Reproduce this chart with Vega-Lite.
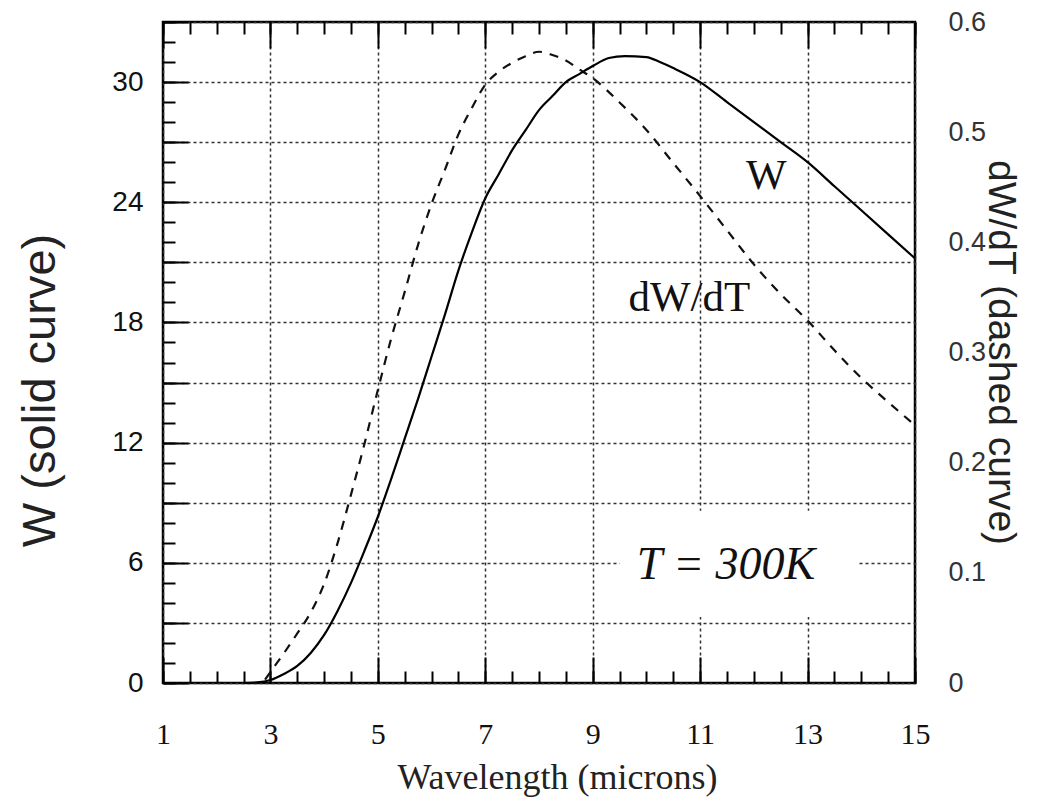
{
  "$schema": "https://vega.github.io/schema/vega-lite/v6.json",
  "width": 752,
  "height": 661,
  "autosize": {"type": "none"},
  "padding": {"left": 163, "top": 22, "right": 135, "bottom": 118},
  "background": "white",
  "config": {"view": {"stroke": "black", "strokeWidth": 2.5}},
  "datasets": {
    "W": [
      {"x": 2.5, "W": 0}, {"x": 2.75, "W": 0.03}, {"x": 3, "W": 0.15}, {"x": 3.25, "W": 0.45},
      {"x": 3.5, "W": 0.85}, {"x": 3.75, "W": 1.5}, {"x": 4, "W": 2.4}, {"x": 4.25, "W": 3.6},
      {"x": 4.5, "W": 5.0}, {"x": 4.75, "W": 6.6}, {"x": 5, "W": 8.3}, {"x": 5.25, "W": 10.2},
      {"x": 5.5, "W": 12.2}, {"x": 5.75, "W": 14.2}, {"x": 6, "W": 16.3}, {"x": 6.25, "W": 18.4},
      {"x": 6.5, "W": 20.6}, {"x": 6.75, "W": 22.5}, {"x": 7, "W": 24.2}, {"x": 7.25, "W": 25.4},
      {"x": 7.5, "W": 26.6}, {"x": 7.75, "W": 27.6}, {"x": 8, "W": 28.6}, {"x": 8.25, "W": 29.3},
      {"x": 8.5, "W": 30.0}, {"x": 8.75, "W": 30.4}, {"x": 9, "W": 30.8}, {"x": 9.3, "W": 31.2},
      {"x": 9.6, "W": 31.3}, {"x": 10, "W": 31.25}, {"x": 10.25, "W": 31.0}, {"x": 10.5, "W": 30.7},
      {"x": 11, "W": 30.0}, {"x": 11.5, "W": 29.0}, {"x": 12, "W": 28.0}, {"x": 12.5, "W": 27.0},
      {"x": 13, "W": 26.0}, {"x": 13.5, "W": 24.8}, {"x": 14, "W": 23.6}, {"x": 14.5, "W": 22.4},
      {"x": 15, "W": 21.2}
    ],
    "dWdT": [
      {"x": 2.9, "v": 0.003}, {"x": 3.0, "v": 0.01}, {"x": 3.25, "v": 0.027}, {"x": 3.5, "v": 0.045},
      {"x": 3.75, "v": 0.064}, {"x": 4.0, "v": 0.09}, {"x": 4.25, "v": 0.127}, {"x": 4.5, "v": 0.171},
      {"x": 4.75, "v": 0.217}, {"x": 5.0, "v": 0.266}, {"x": 5.25, "v": 0.313}, {"x": 5.5, "v": 0.355},
      {"x": 5.75, "v": 0.398}, {"x": 6.0, "v": 0.435}, {"x": 6.25, "v": 0.466}, {"x": 6.5, "v": 0.498},
      {"x": 6.75, "v": 0.522}, {"x": 7.0, "v": 0.543}, {"x": 7.25, "v": 0.555}, {"x": 7.5, "v": 0.563},
      {"x": 7.75, "v": 0.569}, {"x": 8.0, "v": 0.573}, {"x": 8.25, "v": 0.57}, {"x": 8.5, "v": 0.565},
      {"x": 8.75, "v": 0.557}, {"x": 9.0, "v": 0.549}, {"x": 9.5, "v": 0.527}, {"x": 10.0, "v": 0.502},
      {"x": 10.5, "v": 0.472}, {"x": 11.0, "v": 0.442}, {"x": 11.5, "v": 0.411}, {"x": 12.0, "v": 0.38},
      {"x": 12.5, "v": 0.353}, {"x": 13.0, "v": 0.329}, {"x": 13.5, "v": 0.302}, {"x": 14.0, "v": 0.277},
      {"x": 14.5, "v": 0.255}, {"x": 15.0, "v": 0.234}
    ]
  },
  "resolve": {"scale": {"y": "independent"}, "axis": {"x": "independent", "y": "independent"}},
  "layer": [
    {
      "data": {"name": "W"},
      "mark": {"type": "line", "opacity": 0},
      "encoding": {
        "x": {"field": "x", "type": "quantitative", "scale": {"domain": [1, 15], "nice": false, "zero": false},
          "axis": {"orient": "bottom", "values": [1, 3, 5, 7, 9, 11, 13, 15], "ticks": true, "tickSize": -26, "tickWidth": 2, "tickColor": "black", "labels": false, "domain": false, "grid": false, "title": null}},
        "y": {"field": "W", "type": "quantitative", "scale": {"domain": [0, 33], "nice": false},
          "axis": {"orient": "left", "values": [0, 3, 6, 9, 12, 15, 18, 21, 24, 27, 30, 33], "ticks": true, "tickSize": -25, "tickWidth": 2, "tickColor": "black", "labels": false, "domain": false, "grid": false, "title": null}}
      }
    },
    {
      "data": {"name": "W"},
      "mark": {"type": "line", "opacity": 0},
      "encoding": {
        "x": {"field": "x", "type": "quantitative", "scale": {"domain": [1, 15], "nice": false, "zero": false},
          "axis": {"orient": "bottom", "values": [1, 1.5, 2, 2.5, 3, 3.5, 4, 4.5, 5, 5.5, 6, 6.5, 7, 7.5, 8, 8.5, 9, 9.5, 10, 10.5, 11, 11.5, 12, 12.5, 13, 13.5, 14, 14.5, 15], "ticks": true, "tickSize": -12, "tickWidth": 2, "tickColor": "black", "labels": false, "domain": false, "grid": false, "title": null}},
        "y": {"field": "W", "type": "quantitative", "scale": {"domain": [0, 33], "nice": false},
          "axis": {"orient": "left", "values": [0, 1, 2, 3, 4, 5, 6, 7, 8, 9, 10, 11, 12, 13, 14, 15, 16, 17, 18, 19, 20, 21, 22, 23, 24, 25, 26, 27, 28, 29, 30, 31, 32, 33], "ticks": true, "tickSize": -12, "tickWidth": 2, "tickColor": "black", "labels": false, "domain": false, "grid": false, "title": null}}
      }
    },
    {
      "data": {"name": "W"},
      "mark": {"type": "line", "opacity": 0},
      "encoding": {
        "x": {"field": "x", "type": "quantitative", "scale": {"domain": [1, 15], "nice": false, "zero": false},
          "axis": {"orient": "top", "values": [1, 3, 5, 7, 9, 11, 13, 15], "ticks": true, "tickSize": -26, "tickWidth": 2, "tickColor": "black", "labels": false, "domain": false, "grid": false, "title": null}},
        "y": {"field": "W", "type": "quantitative", "scale": {"domain": [0, 33], "nice": false}, "axis": null}
      }
    },
    {
      "data": {"name": "W"},
      "mark": {"type": "line", "opacity": 0},
      "encoding": {
        "x": {"field": "x", "type": "quantitative", "scale": {"domain": [1, 15], "nice": false, "zero": false},
          "axis": {"orient": "top", "values": [1, 1.5, 2, 2.5, 3, 3.5, 4, 4.5, 5, 5.5, 6, 6.5, 7, 7.5, 8, 8.5, 9, 9.5, 10, 10.5, 11, 11.5, 12, 12.5, 13, 13.5, 14, 14.5, 15], "ticks": true, "tickSize": -12, "tickWidth": 2, "tickColor": "black", "labels": false, "domain": false, "grid": false, "title": null}},
        "y": {"field": "W", "type": "quantitative", "scale": {"domain": [0, 33], "nice": false}, "axis": null}
      }
    },
    {
      "data": {"values": [{"x1": 9.5, "x2": 13.92, "y1": 3.3, "y2": 8.6}]},
      "mark": {"type": "rect", "color": "white"},
      "encoding": {
        "x": {"field": "x1", "type": "quantitative", "scale": {"domain": [1, 15], "nice": false, "zero": false}, "axis": null},
        "x2": {"field": "x2"},
        "y": {"field": "y1", "type": "quantitative", "scale": {"domain": [0, 33], "nice": false}, "axis": null},
        "y2": {"field": "y2"}
      }
    },
    {
      "data": {"values": [{"x": 12.23, "y": 25.3, "text": "W"}, {"x": 10.8, "y": 19.2, "text": "dW/dT"}]},
      "mark": {"type": "text", "font": "Liberation Serif", "fontSize": 43, "color": "#111", "baseline": "middle", "align": "center"},
      "encoding": {
        "x": {"field": "x", "type": "quantitative", "scale": {"domain": [1, 15], "nice": false, "zero": false}, "axis": null},
        "y": {"field": "y", "type": "quantitative", "scale": {"domain": [0, 33], "nice": false}, "axis": null},
        "text": {"field": "text"}
      }
    },
    {
      "data": {"values": [{"x": 11.48, "y": 5.9, "text": "T = 300K"}]},
      "mark": {"type": "text", "font": "Liberation Serif", "fontSize": 46, "fontStyle": "italic", "color": "#111", "baseline": "middle", "align": "center"},
      "encoding": {
        "x": {"field": "x", "type": "quantitative", "scale": {"domain": [1, 15], "nice": false, "zero": false}, "axis": null},
        "y": {"field": "y", "type": "quantitative", "scale": {"domain": [0, 33], "nice": false}, "axis": null},
        "text": {"field": "text"}
      }
    },
    {
      "data": {"name": "dWdT"},
      "mark": {"type": "line", "color": "#111", "strokeWidth": 2.2, "strokeDash": [9, 8], "interpolate": "monotone"},
      "encoding": {
        "x": {"field": "x", "type": "quantitative", "scale": {"domain": [1, 15], "nice": false, "zero": false}, "axis": null},
        "y": {"field": "v", "type": "quantitative", "scale": {"domain": [0, 0.6], "nice": false},
          "axis": {"orient": "right", "values": [0, 0.1, 0.2, 0.3, 0.4, 0.5, 0.6], "labelExpr": "datum.value === 0 ? '0' : format(datum.value, '.1f')", "ticks": false, "domain": false, "grid": false, "labelFont": "Liberation Sans", "labelFontSize": 27, "labelColor": "#333", "labelPadding": 33, "labelFlush": false, "labelOverlap": false, "labelAlign": "left", "labelBaseline": "middle",
            "title": "dW/dT (dashed curve)", "titleFont": "Liberation Sans", "titleFontSize": 39, "titleFontWeight": "normal", "titleColor": "#222", "titleX": 85, "titleY": 330, "titleAngle": 90, "titleAlign": "center", "titleBaseline": "middle"}}
      }
    },
    {
      "data": {"name": "W"},
      "mark": {"type": "line", "color": "black", "strokeWidth": 2.2, "interpolate": "monotone"},
      "encoding": {
        "x": {"field": "x", "type": "quantitative", "scale": {"domain": [1, 15], "nice": false, "zero": false},
          "axis": {"orient": "bottom", "values": [1, 3, 5, 7, 9, 11, 13, 15], "ticks": false, "domain": false, "grid": true, "gridDash": [3, 3], "gridColor": "#333", "gridWidth": 1.5, "labelFont": "Liberation Serif", "labelFontSize": 30, "labelColor": "#111", "labelPadding": 36, "labelFlush": false, "labelOverlap": false, "labelBaseline": "top",
            "title": "Wavelength (microns)", "titleFont": "Liberation Serif", "titleFontSize": 36, "titleFontWeight": "normal", "titleColor": "#222", "titleX": 394, "titleY": 94, "titleAngle": 0, "titleAlign": "center", "titleBaseline": "middle"}},
        "y": {"field": "W", "type": "quantitative", "scale": {"domain": [0, 33], "nice": false},
          "axis": {"orient": "left", "values": [0, 3, 6, 9, 12, 15, 18, 21, 24, 27, 30, 33], "labelExpr": "datum.value % 6 === 0 && datum.value <= 30 ? datum.label : ''", "ticks": false, "domain": false, "grid": true, "gridDash": [3, 3], "gridColor": "#333", "gridWidth": 1.5, "labelFont": "Liberation Sans", "labelFontSize": 28, "labelColor": "#111", "labelPadding": 20, "labelFlush": false, "labelOverlap": false, "labelAlign": "right", "labelBaseline": "middle",
            "title": "W (solid curve)", "titleFont": "Liberation Sans", "titleFontSize": 47, "titleFontWeight": "normal", "titleColor": "#222", "titleX": -123, "titleY": 368, "titleAngle": 270, "titleAlign": "center", "titleBaseline": "middle"}}
      }
    }
  ]
}
